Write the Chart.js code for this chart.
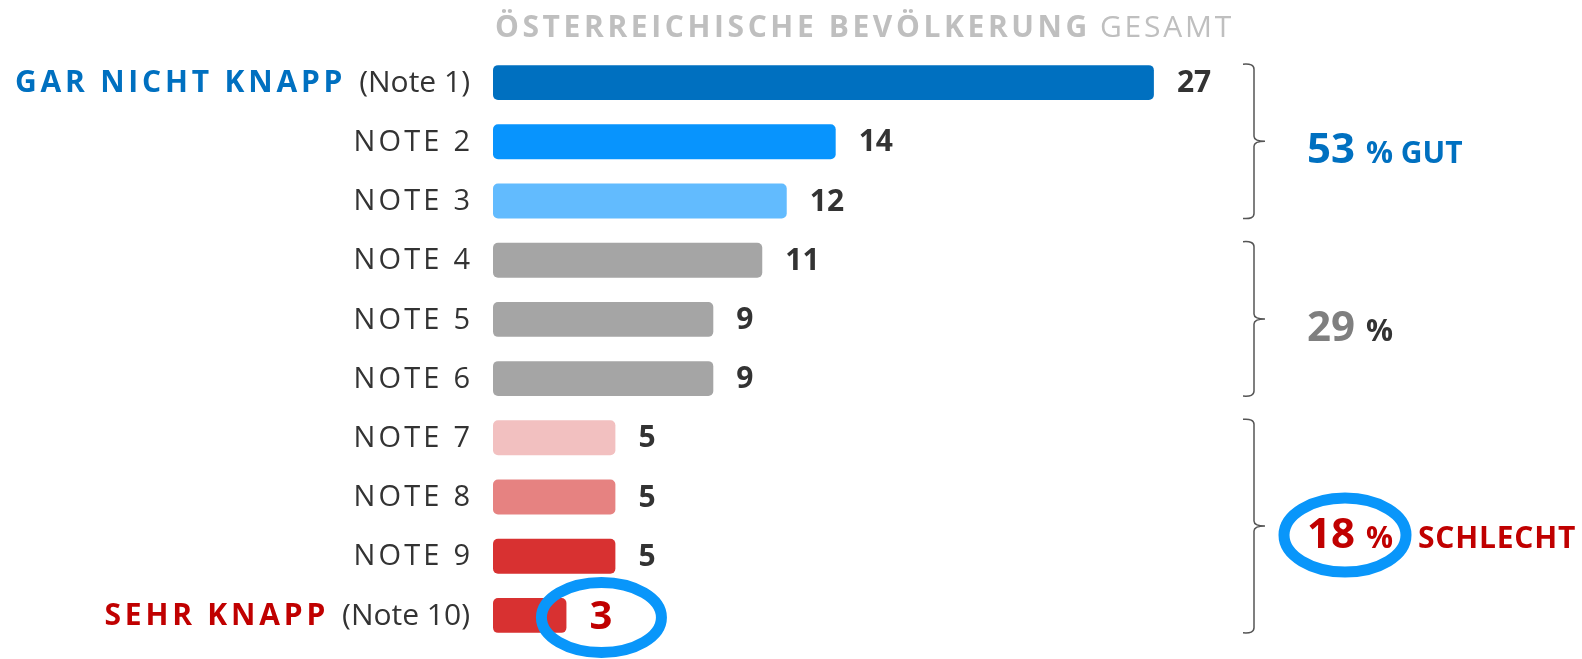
<!DOCTYPE html>
<html>
<head>
<meta charset="utf-8">
<script src="https://cdn.jsdelivr.net/npm/chart.js@4"></script>
<style>
  html, body { margin: 0; padding: 0; background: #ffffff; }
  #wrap { width: 1582px; height: 659px; position: relative; }
</style>
</head>
<body>
<div id="wrap"><canvas id="c" width="1582" height="659"></canvas></div>
<script>
// ---- data ----
const categoryMain = ['GAR NICHT KNAPP', 'NOTE 2', 'NOTE 3', 'NOTE 4', 'NOTE 5', 'NOTE 6', 'NOTE 7', 'NOTE 8', 'NOTE 9', 'SEHR KNAPP'];
const categorySub  = ['(Note 1)', '', '', '', '', '', '', '', '', '(Note 10)'];
const values = [27, 14, 12, 11, 9, 9, 5, 5, 5, 3];
const barColors = ['#0070c0', '#0894fd', '#62bbfe', '#a5a5a5', '#a5a5a5', '#a5a5a5', '#f2c0c0', '#e68281', '#d83131', '#d83131'];
const groupFirst = [0, 3, 6];
const groupLast  = [2, 5, 9];
const groupValue = ['53', '29', '18'];
const groupSuffix = ['% GUT', '%', '%'];
const groupWord = ['', '', 'SCHLECHT'];
const titleBold = 'ÖSTERREICHISCHE BEVÖLKERUNG';
const titleRegular = 'GESAMT';

const FONT = '"Open Sans", "Noto Sans", "DejaVu Sans", sans-serif';
const BLUE = '#0070c0', RED = '#c00000', DARK = '#333333', RING = '#0996fa';

const overlay = {
  id: 'overlay',
  afterDatasetsDraw(chart) {
    const ctx = chart.ctx;
    const area = chart.chartArea;
    const ys = chart.scales.y;
    const meta = chart.getDatasetMeta(0);
    ctx.save();

    // title
    ctx.textBaseline = 'alphabetic';
    ctx.textAlign = 'left';
    ctx.fillStyle = '#bfbfbf';
    ctx.letterSpacing = '3.6px';
    ctx.font = 'bold 30px ' + FONT;
    const tx = area.left + 2;
    ctx.fillText(titleBold, tx, 37);
    const w1 = ctx.measureText(titleBold).width;
    ctx.letterSpacing = '2.8px';
    ctx.font = '30px ' + FONT;
    ctx.fillText(titleRegular, tx + w1 + 9, 37);

    // category labels
    const labelRight = area.left - 23;
    categoryMain.forEach((main, i) => {
      const y = ys.getPixelForValue(i) + 1;
      ctx.textBaseline = 'middle';
      ctx.textAlign = 'right';
      const sub = categorySub[i];
      if (sub) {
        ctx.letterSpacing = '0px';
        ctx.font = '30px ' + FONT;
        ctx.fillStyle = DARK;
        ctx.fillText(sub, labelRight, y);
        const sw = ctx.measureText(sub).width;
        ctx.letterSpacing = '3.8px';
        ctx.font = 'bold 30px ' + FONT;
        ctx.fillStyle = i === 0 ? BLUE : RED;
        ctx.fillText(main, labelRight - sw - 13, y);
      } else {
        ctx.letterSpacing = '3.2px';
        ctx.font = '29px ' + FONT;
        ctx.fillStyle = DARK;
        ctx.fillText(main, labelRight + 3.2, y);
      }
    });

    // value labels
    ctx.letterSpacing = '0px';
    ctx.textAlign = 'left';
    ctx.textBaseline = 'middle';
    meta.data.forEach((bar, i) => {
      const last = i === values.length - 1;
      ctx.font = 'bold ' + (last ? 40 : 30) + 'px ' + FONT;
      ctx.fillStyle = last ? RED : DARK;
      ctx.fillText(String(values[i]), bar.x + 23, bar.y + (last ? 2 : 1));
      if (last) {
        ctx.beginPath();
        ctx.lineWidth = 11;
        ctx.strokeStyle = RING;
        ctx.ellipse(bar.x + 35, bar.y + 2, 60, 35, 0, 0, Math.PI * 2);
        ctx.stroke();
      }
    });

    // brackets and group labels
    const bx = 1254;
    groupFirst.forEach((f, g) => {
      const top = meta.data[f].y - meta.data[f].height / 2 - 1;
      const bot = meta.data[groupLast[g]].y + meta.data[groupLast[g]].height / 2;
      const mid = (top + bot) / 2;
      ctx.beginPath();
      ctx.lineWidth = 1.5;
      ctx.strokeStyle = '#555555';
      ctx.moveTo(bx - 11, top);
      ctx.quadraticCurveTo(bx, top - 1, bx, top + 5);
      ctx.lineTo(bx, mid - 5);
      ctx.quadraticCurveTo(bx, mid, bx + 11, mid);
      ctx.quadraticCurveTo(bx, mid, bx, mid + 5);
      ctx.lineTo(bx, bot - 5);
      ctx.quadraticCurveTo(bx, bot + 1, bx - 11, bot);
      ctx.stroke();

      const gx = 1307, gy = mid + 22;
      ctx.textBaseline = 'alphabetic';
      ctx.textAlign = 'left';
      ctx.font = 'bold 42px ' + FONT;
      ctx.fillStyle = g === 0 ? BLUE : (g === 1 ? '#7f7f7f' : RED);
      ctx.fillText(groupValue[g], gx, gy);
      const nw = ctx.measureText(groupValue[g]).width;
      ctx.font = 'bold 30px ' + FONT;
      ctx.fillStyle = g === 0 ? BLUE : (g === 1 ? DARK : RED);
      ctx.fillText(groupSuffix[g], gx + nw + 11, gy);
      if (groupWord[g]) {
        ctx.letterSpacing = '0.8px';
        ctx.fillText(groupWord[g], 1418, gy);
        ctx.letterSpacing = '0px';
        ctx.beginPath();
        ctx.lineWidth = 11;
        ctx.strokeStyle = RING;
        ctx.ellipse(1345, mid + 9, 61, 37, 0, 0, Math.PI * 2);
        ctx.stroke();
      }
    });
    ctx.restore();
  }
};

new Chart(document.getElementById('c'), {
  type: 'bar',
  data: {
    labels: categoryMain,
    datasets: [{
      data: values,
      backgroundColor: barColors,
      borderRadius: 5,
      borderSkipped: false,
      barPercentage: 0.59,
      categoryPercentage: 1.0
    }]
  },
  options: {
    indexAxis: 'y',
    responsive: false,
    animation: false,
    layout: { padding: { left: 493, right: 12, top: 53, bottom: 14 } },
    plugins: { legend: { display: false }, tooltip: { enabled: false }, title: { display: false } },
    scales: {
      x: { display: false, min: 0, max: 44 },
      y: { display: false }
    }
  },
  plugins: [overlay]
});
</script>
</body>
</html>
